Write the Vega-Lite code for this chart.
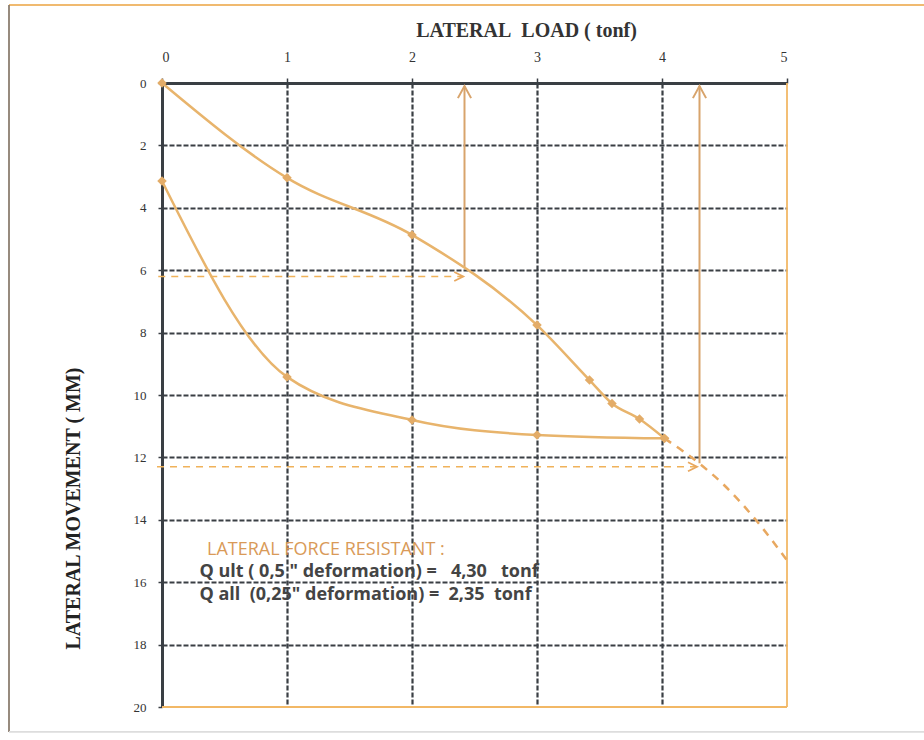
{
  "$schema": "https://vega.github.io/schema/vega-lite/v6.json",
  "width": 625,
  "height": 624,
  "autosize": "none",
  "padding": {"left": 162, "top": 83, "right": 137, "bottom": 33},
  "background": "white",
  "config": {"view": {"stroke": null}},
  "datasets": {
    "frame": [
      {"part": "top", "x": -1.224, "x2": 6.2, "y": -2.5, "y2": -2.5},
      {"part": "left", "x": -1.224, "x2": -1.224, "y": -2.5, "y2": 20.8},
      {"part": "bottom", "x": -1.224, "x2": 6.2, "y": 20.8, "y2": 20.8}
    ],
    "edges": [
      {"x": 5, "x2": 5, "y": 0, "y2": 20},
      {"x": 0, "x2": 5, "y": 20, "y2": 20}
    ],
    "curves": [
      {"series": "load", "o": 1, "x": 0, "y": 0},
      {"series": "load", "o": 2, "x": 1, "y": 3.04},
      {"series": "load", "o": 3, "x": 2, "y": 4.87},
      {"series": "load", "o": 4, "x": 3, "y": 7.76},
      {"series": "load", "o": 5, "x": 3.42, "y": 9.52},
      {"series": "load", "o": 6, "x": 3.6, "y": 10.27},
      {"series": "load", "o": 7, "x": 3.82, "y": 10.77},
      {"series": "load", "o": 8, "x": 4.02, "y": 11.39},
      {"series": "unload", "o": 1, "x": 0, "y": 3.14},
      {"series": "unload", "o": 2, "x": 1, "y": 9.42},
      {"series": "unload", "o": 3, "x": 2, "y": 10.8},
      {"series": "unload", "o": 4, "x": 3, "y": 11.28},
      {"series": "unload", "o": 5, "x": 4.02, "y": 11.39}
    ],
    "ext": [
      {"o": 1, "x": 4.02, "y": 11.39},
      {"o": 2, "x": 4.3, "y": 12.2},
      {"o": 3, "x": 4.5, "y": 12.9},
      {"o": 4, "x": 4.75, "y": 14.0},
      {"o": 5, "x": 5.0, "y": 15.3}
    ],
    "vert": [
      {"x": 2.42, "y": 5.93, "y2": 0.1},
      {"x": 4.3, "y": 12.19, "y2": 0.1}
    ],
    "horiz": [
      {"x": -0.03, "x2": 2.41, "y": 6.2},
      {"x": -0.04, "x2": 4.28, "y": 12.3}
    ],
    "headsUp": [
      {"x": 2.42, "y": 0.1},
      {"x": 4.3, "y": 0.1}
    ],
    "headsRight": [
      {"x": 2.41, "y": 6.2},
      {"x": 4.28, "y": 12.3}
    ],
    "notesHead": [
      {"x": 0.36, "y": 14.97, "text": "LATERAL FORCE RESISTANT :"}
    ],
    "notesBody": [
      {"x": 0.3, "y": 15.67, "text": "Q ult ( 0,5 \" deformation) =\u00a0\u00a0 4,30\u00a0\u00a0 tonf"},
      {"x": 0.3, "y": 16.41, "text": "Q all\u00a0 (0,25\" deformation) =\u00a0 2,35\u00a0 tonf"}
    ]
  },
  "encoding": {
    "x": {
      "field": "x", "type": "quantitative",
      "scale": {"domain": [0, 5], "nice": false, "zero": false},
      "axis": {
        "orient": "top",
        "title": "LATERAL\u00a0\u00a0LOAD ( tonf)",
        "values": [0, 1, 2, 3, 4, 5],
        "format": "d",
        "labelFont": "Liberation Serif",
        "labelFontSize": 14,
        "labelColor": "#333333",
        "labelPadding": 14,
        "tickColor": "#3a3f44",
        "tickSize": 5,
        "tickWidth": 1.5,
        "domainColor": "#3a3f44",
        "domainWidth": 3,
        "grid": true,
        "gridColor": {"condition": {"test": "datum.value === 5", "value": "transparent"}, "value": "#3a3f44"},
        "gridDash": [5, 2],
        "gridWidth": 2.2,
        "gridOpacity": 1,
        "titleFont": "Liberation Serif",
        "titleFontSize": 20,
        "titleFontWeight": "bold",
        "titleColor": "#333333",
        "titlePadding": 10,
        "titleX": 364
      }
    },
    "y": {
      "field": "y", "type": "quantitative",
      "scale": {"domain": [0, 20], "nice": false, "zero": false, "reverse": true},
      "axis": {
        "title": "LATERAL MOVEMENT ( MM)",
        "values": [0, 2, 4, 6, 8, 10, 12, 14, 16, 18, 20],
        "format": "d",
        "labelFont": "Liberation Serif",
        "labelFontSize": 13,
        "labelColor": "#333333",
        "labelPadding": 12,
        "tickColor": "#3a3f44",
        "tickSize": 4,
        "tickWidth": 1.5,
        "domainColor": "#3a3f44",
        "domainWidth": 3,
        "grid": true,
        "gridColor": {"condition": {"test": "datum.value === 20", "value": "transparent"}, "value": "#3a3f44"},
        "gridDash": [5, 2],
        "gridWidth": 2.2,
        "gridOpacity": 1,
        "titleFont": "Liberation Serif",
        "titleFontSize": 20,
        "titleFontWeight": "bold",
        "titleColor": "#222222",
        "titlePadding": 50,
        "titleY": 425
      }
    }
  },
  "layer": [
    {
      "data": {"name": "edges"},
      "mark": {"type": "rule", "color": "#F2B866", "strokeWidth": 1.8},
      "encoding": {
        "x2": {"field": "x2"},
        "y2": {"field": "y2"}
      }
    },
    {
      "data": {"name": "frame"},
      "mark": {"type": "rule", "strokeWidth": 1.8},
      "encoding": {
        "x2": {"field": "x2"},
        "y2": {"field": "y2"},
        "color": {
          "field": "part", "type": "nominal", "legend": null,
          "scale": {"domain": ["top", "left", "bottom"], "range": ["#F0BA70", "#8C7E70", "#DDDDDD"]}
        }
      }
    },
    {
      "data": {"name": "horiz"},
      "mark": {"type": "rule", "color": "#F0B25A", "strokeWidth": 1.6, "strokeDash": [7, 6]},
      "encoding": {
        "x2": {"field": "x2"}
      }
    },
    {
      "data": {"name": "vert"},
      "mark": {"type": "rule", "color": "#D8A46C", "strokeWidth": 2},
      "encoding": {
        "y2": {"field": "y2"}
      }
    },
    {
      "data": {"name": "headsUp"},
      "mark": {"type": "point", "shape": "M-0.55,1L0,0L0.55,1", "filled": false, "stroke": "#D8A46C", "strokeWidth": 2, "size": 576, "opacity": 1},
      "encoding": {}
    },
    {
      "data": {"name": "headsRight"},
      "mark": {"type": "point", "shape": "M-1,-0.5L0,0L-1,0.5", "filled": false, "stroke": "#E8A860", "strokeWidth": 1.8, "size": 324, "opacity": 1},
      "encoding": {}
    },
    {
      "data": {"name": "ext"},
      "mark": {"type": "line", "color": "#E8A860", "strokeWidth": 2.5, "strokeDash": [8, 7], "interpolate": "monotone"},
      "encoding": {
        "order": {"field": "o"}
      }
    },
    {
      "data": {"name": "curves"},
      "mark": {"type": "line", "color": "#E8B46C", "strokeWidth": 2.5, "interpolate": "monotone"},
      "encoding": {
        "detail": {"field": "series"},
        "order": {"field": "o"}
      }
    },
    {
      "data": {"name": "curves"},
      "mark": {"type": "point", "shape": "diamond", "filled": true, "size": 90, "color": "#E3AC68", "opacity": 1},
      "encoding": {}
    },
    {
      "data": {"name": "notesHead"},
      "mark": {"type": "text", "align": "left", "baseline": "middle", "font": "Open Sans", "fontSize": 18, "color": "#D99A58"},
      "encoding": {
        "text": {"field": "text"}
      }
    },
    {
      "data": {"name": "notesBody"},
      "mark": {"type": "text", "align": "left", "baseline": "middle", "font": "Open Sans", "fontSize": 18, "fontWeight": "bold", "color": "#444444"},
      "encoding": {
        "text": {"field": "text"}
      }
    }
  ]
}
